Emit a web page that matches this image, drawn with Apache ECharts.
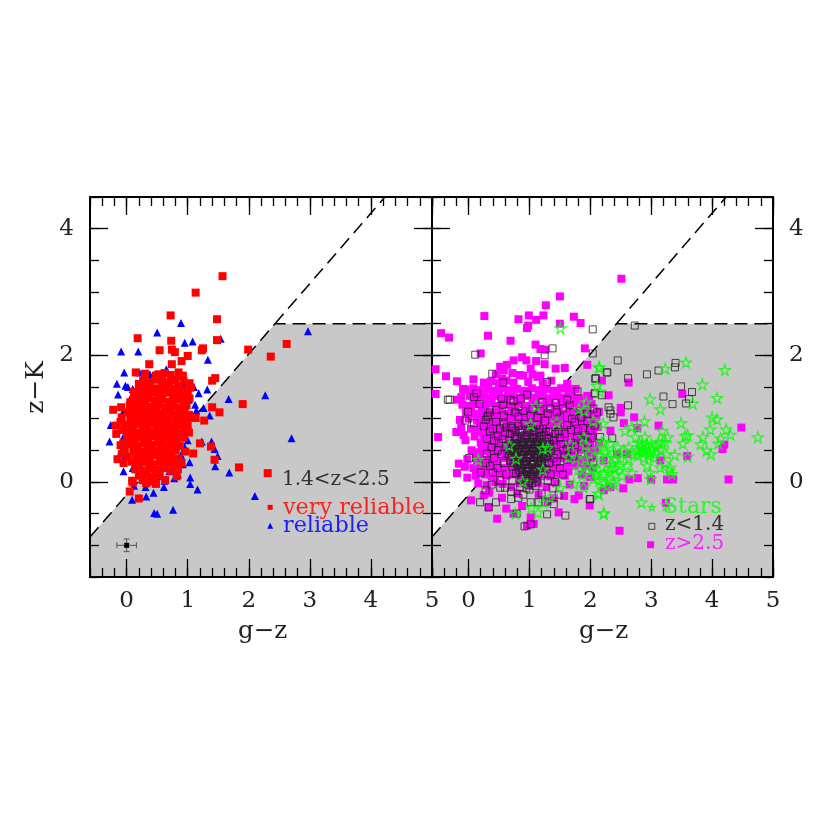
<!DOCTYPE html>
<html><head><meta charset="utf-8">
<style>html,body{margin:0;padding:0;background:#fff}#c{width:830px;height:830px}</style>
<script src="https://cdn.jsdelivr.net/npm/echarts@6/dist/echarts.min.js"></script>
</head><body><div id="c"></div>
<script>
const xMajorTicks=[0,1,2,3,4,5];
const yMajorTicks=[0,2,4];
const selectionBoundary=[[-0.6,-0.87],[2.43,2.5],[5,2.5]];
const diagonalExtension=[[2.43,2.5],[4.23,4.5]];
const errorBar=[[0,-1,0.16,0.1]];
const legendRed=[[2.35,-0.40]];
const legendBlue=[[2.35,-0.69]];
const legendStar=[[3.01,-0.40]];
const legendOpen=[[3.01,-0.70]];
const legendMagenta=[[2.99,-0.99]];

const reliable=[[0.89,2.51],[0.5,2.36],[1.54,2.26],[0.95,2.2],[1.08,2.22],[-0.09,2.06],[0.19,2.06],[1.33,1.93],[-0.04,1.73],[0.21,1.73],[0.38,1.70],[-0.16,1.55],[-0.02,1.52],[1.32,1.46],[1.67,1.31],[-0.14,1.38],[-0.26,0.9],[-0.28,0.64],[-0.09,0.48],[-0.05,0.17],[0.12,-0.06],[0.09,-0.28],[0.32,-0.23],[0.44,-0.17],[0.61,-0.08],[0.31,-0.08],[0.45,-0.49],[0.5,-0.5],[0.76,-0.44],[1.04,0.07],[1.04,-0.03],[1.16,-0.12],[2.1,-0.22],[1.68,0.15],[1.45,0.25],[1.49,0.41],[1.44,0.52],[1.39,0.64],[1.23,0.64],[1.03,0.31],[0.84,0.12],[0.7,0.17],[0.54,0.17],[0.5,0.09],[0.84,0.21],[1.36,1.05],[1.26,1.17],[1.14,1.13],[0.98,0.81],[0.89,0.43],[2.97,2.38],[2.27,1.37],[2.70,0.69],[0.02,1.50],[0.1,1.47],[0.05,1.3],[-0.05,1.12],[1.1,1.5],[1.18,1.4],[1.02,1.3],[1.12,1.22],[0.2,1.55],[0.45,1.62],[0.65,1.78],[0.75,1.62],[0.85,1.5],[0.95,1.55],[1.07,1.02],[1.0,0.66],[0.95,0.55],[0.92,0.28],[0.6,0.28],[0.3,0.12],[0.1,0.22],[-0.02,0.42],[-0.06,0.7],[0.62,0.02],[0.78,0.06],[0.36,0.02]];

const veryReliable=[[1.57,3.25],[1.13,2.99],[0.72,2.63],[1.48,2.57],[0.18,2.27],[0.73,2.23],[1.48,2.24],[1.99,2.09],[0.54,2.08],[0.74,2.09],[0.79,2.05],[1.25,2.11],[1.23,2.08],[1.0,1.99],[0.9,1.91],[0.37,1.86],[0.74,1.86],[0.15,1.73],[0.52,1.70],[1.45,1.64],[1.40,1.60],[1.90,1.23],[1.40,1.18],[1.52,1.10],[1.13,1.01],[1.27,0.97],[1.02,0.78],[1.20,0.61],[1.38,0.56],[1.44,0.35],[1.84,0.23],[0.96,0.48],[1.09,0.45],[0.63,0.03],[0.05,-0.15],[0.2,-0.26],[0.09,0.02],[-0.15,0.36],[-0.22,1.14],[-0.09,1.18],[-0.18,0.89],[-0.17,0.76],[-0.1,0.58],[0.32,-0.02],[2.36,1.98],[2.62,2.18],[2.31,0.14],
[0.30,1.71],[0.48,1.68],[0.62,1.72],[0.72,1.69],[0.85,1.73],[0.92,1.68],
[0.27,1.60],[0.38,1.58],[0.47,1.62],[0.58,1.60],[0.70,1.57],[0.80,1.61],[0.93,1.60],[1.03,1.56],
[0.24,1.49],[0.36,1.52],[0.48,1.48],[0.60,1.51],[0.72,1.47],[0.84,1.50],[0.95,1.46],[1.05,1.49],
[0.18,1.40],[0.30,1.38],[0.42,1.42],[0.52,1.39],[0.64,1.41],[0.76,1.38],[0.88,1.42],[1.00,1.38],
[0.12,1.30],[0.24,1.28],[0.36,1.32],[0.47,1.29],[0.58,1.31],[0.70,1.27],[0.82,1.30],[0.94,1.28],[1.03,1.32],
[0.05,1.20],[0.17,1.18],[0.29,1.21],[0.40,1.19],[0.52,1.22],[0.63,1.18],[0.75,1.20],[0.87,1.17],[0.98,1.21],
[0.02,1.10],[0.14,1.08],[0.26,1.11],[0.37,1.09],[0.49,1.12],[0.60,1.08],[0.72,1.10],[0.83,1.07],[0.95,1.10],[1.02,1.06],
[0.06,1.00],[0.18,0.98],[0.30,1.01],[0.41,0.99],[0.53,1.02],[0.64,0.98],[0.76,1.00],[0.87,0.97],[0.99,1.00],
[-0.02,0.90],[0.10,0.88],[0.22,0.91],[0.33,0.89],[0.45,0.92],[0.56,0.88],[0.68,0.90],[0.79,0.87],[0.91,0.90],[1.00,0.88],
[0.04,0.80],[0.16,0.78],[0.27,0.81],[0.39,0.79],[0.50,0.82],[0.62,0.78],[0.73,0.80],[0.85,0.77],[0.94,0.80],
[0.01,0.70],[0.12,0.68],[0.24,0.71],[0.35,0.69],[0.47,0.72],[0.58,0.68],[0.70,0.70],[0.81,0.67],[0.93,0.70],
[0.06,0.60],[0.18,0.58],[0.29,0.61],[0.41,0.59],[0.52,0.62],[0.64,0.58],[0.75,0.60],[0.87,0.57],
[0.11,0.50],[0.23,0.48],[0.34,0.51],[0.46,0.49],[0.57,0.52],[0.69,0.48],[0.80,0.50],
[0.02,0.40],[0.15,0.38],[0.27,0.41],[0.38,0.39],[0.50,0.42],[0.61,0.38],[0.73,0.40],[0.85,0.37],
[-0.05,0.30],[0.08,0.32],[0.20,0.29],[0.31,0.31],[0.43,0.28],[0.55,0.32],[0.66,0.29],[0.78,0.31],[0.90,0.30],
[0.14,0.20],[0.25,0.18],[0.37,0.21],[0.48,0.19],[0.60,0.22],[0.72,0.18],[0.84,0.20],
[0.20,0.10],[0.32,0.12],[0.44,0.08],[0.54,0.11],[0.82,0.09],[0.10,-0.01],[0.26,0.03],[0.40,0.01],[0.48,-0.03],
[-0.08,1.02],[-0.1,0.95],[-0.07,0.82],[-0.05,0.62],[-0.03,0.52],[-0.08,0.44],[0.06,1.26],[0.12,1.42],[0.2,1.55],
[0.35,1.44],[0.55,1.45],[0.75,1.44],[0.9,1.35],[0.3,1.25],[0.53,1.26],[0.76,1.24],[0.92,1.14],[0.22,1.05],[0.45,1.05],[0.68,1.04],[0.9,1.03],
[0.12,0.94],[0.35,0.95],[0.58,0.95],[0.82,0.93],[0.1,0.74],[0.32,0.75],[0.55,0.75],[0.76,0.74],[0.12,0.54],[0.35,0.55],[0.58,0.56],[0.8,0.55],[0.2,0.44],[0.42,0.45],[0.65,0.44],[0.18,0.24],[0.4,0.25],[0.62,0.26],[0.8,0.26]];

const highZ=[[2.51,3.21],[1.50,2.93],[1.27,2.79],[0.26,2.62],[0.99,2.63],[0.82,2.57],[1.11,2.56],[1.23,2.63],[1.73,2.61],[1.84,2.51],[1.5,2.5],[0.96,2.43],[0.98,2.47],[-0.45,2.35],[-0.32,2.28],[0.32,2.31],[0.69,2.23],[1.10,2.17],[1.18,2.10],[1.26,2.09],[1.91,2.11],[0.20,2.03],[1.11,1.91],[1.25,1.86],[1.43,1.79],[1.58,1.80],[1.95,1.85],[-0.54,1.78],[-0.37,1.67],[-0.19,1.59],[-0.54,1.39],[-0.19,1.30],[-0.09,1.47],[0.08,1.62],[0.52,1.82],[0.63,1.85],[0.74,1.92],[0.88,1.97],[0.95,1.92],[0.90,1.68],[1.02,1.79],[1.13,1.66],[0.58,1.76],[0.55,1.63],[-0.50,0.71],[-0.2,0.79],[-0.16,0.29],[-0.19,0.14],[0.04,-0.29],[0.25,-0.21],[0.47,-0.58],[0.74,-0.5],[1.02,-0.56],[1.07,-0.66],[0.96,-0.69],[1.48,-0.48],[1.57,-0.22],[1.74,-0.27],[1.81,-0.21],[1.99,-0.37],[1.74,0.26],[1.40,-0.26],[0.33,-0.40],[2.63,1.57],[3.51,1.39],[4.48,0.86],[3.12,0.89],[2.77,0.85],[4.2,0.59],[4.17,0.52],[3.59,0.41],[4.27,0.04],[2.64,0.04],[2.78,0.06],[3.26,0.04],[3.36,0.04],[3.0,0.04],[2.54,-0.10],[2.33,-0.08],[2.22,-0.13],[3.24,-0.33],[2.48,-0.77],[2.5,1.17],[2.5,1.10],[2.72,1.02],[2.55,0.93],[2.30,1.37],[2.19,1.60],[2.33,0.81],[3.15,0.34],[2.44,0.44],[2.22,0.34],[2.6,0.44],
[0.45,1.70],[0.72,1.72],[0.84,1.69],[1.05,1.70],[1.18,1.68],
[0.25,1.57],[0.37,1.59],[0.50,1.56],[0.62,1.60],[0.74,1.57],[0.98,1.58],[1.22,1.56],[1.36,1.60],[1.62,1.55],
[-0.05,1.46],[0.08,1.48],[0.20,1.45],[0.32,1.47],[0.44,1.44],[0.56,1.48],[0.68,1.45],[0.80,1.47],[0.92,1.44],[1.04,1.48],[1.16,1.45],[1.28,1.47],[1.40,1.44],[1.52,1.48],[1.64,1.45],[1.76,1.47],
[-0.12,1.34],[0.02,1.36],[0.14,1.33],[0.26,1.35],[0.38,1.32],[0.50,1.36],[0.62,1.33],[0.74,1.35],[0.86,1.32],[0.98,1.36],[1.10,1.33],[1.22,1.35],[1.34,1.32],[1.46,1.36],[1.58,1.33],[1.70,1.35],[1.82,1.32],[1.95,1.36],
[-0.10,1.22],[0.02,1.20],[0.10,1.23],[0.22,1.21],[0.34,1.24],[0.46,1.20],[0.58,1.23],[0.70,1.21],[0.82,1.24],[0.94,1.20],[1.06,1.23],[1.18,1.21],[1.30,1.24],[1.42,1.20],[1.54,1.23],[1.66,1.21],[1.78,1.24],[1.90,1.20],[2.02,1.23],
[-0.04,1.10],[0.10,1.08],[0.22,1.11],[0.34,1.09],[0.46,1.12],[0.58,1.08],[0.70,1.11],[0.82,1.09],[0.94,1.12],[1.06,1.08],[1.18,1.11],[1.30,1.09],[1.42,1.12],[1.54,1.08],[1.66,1.11],[1.78,1.09],[1.90,1.12],[2.02,1.08],[2.14,1.11],
[-0.14,0.98],[0.0,1.00],[0.14,0.97],[0.26,0.99],[0.38,0.96],[0.50,1.00],[0.62,0.97],[0.74,0.99],[0.86,0.96],[0.98,1.00],[1.10,0.97],[1.22,0.99],[1.34,0.96],[1.46,1.00],[1.58,0.97],[1.70,0.99],[1.82,0.96],[1.94,1.00],[2.06,0.97],
[-0.12,0.86],[0.04,0.84],[0.18,0.87],[0.30,0.85],[0.42,0.88],[0.54,0.84],[0.66,0.87],[0.78,0.85],[0.90,0.88],[1.02,0.84],[1.14,0.87],[1.26,0.85],[1.38,0.88],[1.50,0.84],[1.62,0.87],[1.74,0.85],[1.86,0.88],[1.98,0.84],[2.12,0.87],
[-0.08,0.74],[0.10,0.72],[0.24,0.75],[0.36,0.73],[0.48,0.76],[0.60,0.72],[0.72,0.75],[0.84,0.73],[0.96,0.76],[1.08,0.72],[1.20,0.75],[1.32,0.73],[1.44,0.76],[1.56,0.72],[1.68,0.75],[1.80,0.73],[1.92,0.76],[2.04,0.72],
[-0.05,0.66],[0.20,0.62],[0.32,0.60],[0.44,0.63],[0.56,0.59],[0.68,0.62],[0.80,0.60],[0.92,0.63],[1.04,0.59],[1.16,0.62],[1.28,0.60],[1.40,0.63],[1.52,0.59],[1.64,0.62],[1.76,0.60],[1.88,0.63],[2.00,0.59],[2.14,0.62],
[0.05,0.50],[0.16,0.47],[0.28,0.49],[0.40,0.51],[0.52,0.47],[0.64,0.50],[0.76,0.48],[0.88,0.51],[1.00,0.47],[1.12,0.50],[1.24,0.48],[1.36,0.51],[1.48,0.47],[1.60,0.50],[1.72,0.48],[1.84,0.51],[1.96,0.47],[2.08,0.50],
[-0.02,0.36],[0.12,0.38],[0.24,0.35],[0.36,0.37],[0.48,0.34],[0.60,0.38],[0.72,0.35],[0.84,0.37],[0.96,0.34],[1.08,0.38],[1.20,0.35],[1.32,0.37],[1.44,0.34],[1.56,0.38],[1.68,0.35],[1.80,0.37],[1.92,0.34],[2.04,0.38],
[-0.06,0.24],[0.08,0.22],[0.20,0.25],[0.32,0.23],[0.44,0.26],[0.56,0.22],[0.68,0.25],[0.80,0.23],[0.92,0.26],[1.04,0.22],[1.16,0.25],[1.28,0.23],[1.40,0.26],[1.52,0.22],[1.92,0.25],[2.04,0.22],
[-0.02,0.07],[0.12,0.10],[0.26,0.12],[0.38,0.09],[0.50,0.13],[0.62,0.10],[0.74,0.12],[0.86,0.09],[0.98,0.13],[1.10,0.10],[1.22,0.12],[1.34,0.09],[1.46,0.13],[1.58,0.10],[1.86,0.12],[2.0,0.08],
[0.16,-0.02],[0.30,-0.05],[0.44,0.0],[0.56,-0.03],[0.70,-0.08],[0.84,-0.02],[1.00,-0.06],[1.14,-0.02],[1.28,-0.08],[1.44,-0.02],[1.66,-0.04],[1.90,-0.06],[0.34,-0.17],[0.55,-0.25],[0.8,-0.18],[1.15,-0.2],[1.3,-0.3],[0.62,-0.42],[0.88,-0.38],
[0.15,1.40],[0.4,1.40],[0.65,1.40],[0.9,1.40],[1.15,1.40],[1.4,1.40],[1.65,1.40],[0.08,1.28],[0.3,1.28],[0.55,1.28],[0.8,1.28],[1.05,1.28],[1.28,1.28],[1.52,1.28],[1.76,1.28],[1.98,1.28],[0.04,1.15],[0.28,1.15],[0.52,1.15],[0.76,1.15],[1.0,1.15],[1.24,1.15],[1.48,1.15],[1.72,1.15],[1.96,1.15],[0.2,1.03],[0.44,1.04],[0.68,1.03],[0.92,1.04],[1.16,1.03],[1.4,1.04],[1.64,1.03],[1.88,1.04],[2.1,1.03],[0.24,0.92],[0.48,0.92],[0.72,0.92],[1.08,0.92],[1.44,0.92],[1.68,0.92],[1.92,0.92],[0.16,0.8],[0.4,0.8],[0.6,0.8],[1.56,0.8],[1.8,0.8],[2.04,0.8],[0.26,0.68],[0.5,0.68],[1.46,0.68],[1.7,0.68],[1.94,0.68],[0.22,0.55],[0.46,0.55],[1.42,0.56],[1.66,0.56],[1.9,0.56],[0.18,0.42],[0.42,0.43],[1.5,0.42],[1.74,0.43],[1.98,0.42],[0.14,0.3],[0.38,0.3],[1.62,0.3],[1.86,0.3],[0.2,0.17],[0.44,0.18],[1.4,0.18],[1.64,0.17]];

const lowZ=[[2.73,2.47],[2.04,2.41],[2.04,2.03],[2.45,1.92],[2.28,1.73],[2.62,1.64],[2.93,1.70],[3.12,1.76],[3.39,1.81],[3.40,1.88],[3.49,1.51],[3.67,1.42],[3.20,1.35],[3.35,1.23],[3.62,1.31],[3.57,1.24],[2.62,1.21],[2.30,1.18],[2.33,1.08],[2.38,1.02],[2.19,1.37],[2.08,1.63],[2.08,1.40],[2.11,1.10],[2.36,0.69],[2.16,0.71],[2.07,0.89],[2.05,0.31],[2.0,-0.27],[0.11,2.01],[1.38,2.11],[1.25,2.0],[0.39,1.71],[1.29,1.58],[2.27,1.73],[-0.31,1.30],[-0.34,1.30],[0.13,1.40],[0.09,1.34],[0.18,1.23],[0.57,1.57],[0.54,1.31],[0.57,1.22],[0.69,1.30],[0.74,1.28],[0.86,1.32],[0.96,1.38],[0.82,1.19],[1.21,1.26],[1.43,1.25],[1.62,1.30],[1.66,1.22],[1.79,1.43],[2.09,1.64],[2.07,1.40],[-0.01,1.11],[0.31,1.03],[1.34,1.16],[2.33,1.13],[2.05,1.16],[0.82,1.03],[1.02,1.05],[1.13,1.02],[1.26,0.97],[0.92,-0.70],[1.02,-0.67],[1.29,-0.51],[1.59,-0.53],[0.79,-0.5],[0.33,-0.40],[0.19,-0.32],[0.45,-0.32],[0.70,-0.27],[0.82,-0.25],[1.02,-0.32],[1.26,-0.32],[1.99,-0.27],[0.28,-0.13],[0.38,-0.04],[0.52,-0.09],[0.60,-0.09],[0.01,0.38],[0.20,0.15],[0.09,0.93],[-0.05,0.97],[0.28,0.98],[0.32,1.05],[1.72,1.10],[1.85,1.02],[1.95,0.96],[1.5,1.02],[1.62,0.9],[1.75,0.95],[1.88,0.85],[2.0,0.82],[1.46,0.9],[0.45,0.95],[0.58,0.92],[0.7,0.88],[0.35,0.8],[0.48,0.72],[0.6,0.78],[0.38,0.55],[0.5,0.62],[0.42,0.38],[0.55,0.44],[0.35,0.25],[0.48,0.22],[0.58,0.3],[0.62,0.12],[0.72,0.02],[0.85,-0.08],[1.0,-0.12],[1.1,-0.06],[1.2,-0.18],[1.38,-0.1],[1.48,-0.2],[1.35,0.12],[1.5,0.22],[1.62,0.35],[1.55,0.5],[1.68,0.62],[1.78,0.72],
[0.72,0.85],[0.82,0.88],[0.92,0.92],[1.02,0.86],[1.12,0.9],[1.22,0.84],[1.32,0.8],[1.42,0.76],
[0.68,0.76],[0.76,0.72],[0.84,0.78],[0.92,0.74],[1.0,0.78],[1.08,0.74],[1.16,0.78],[1.24,0.74],[1.32,0.7],[1.4,0.66],[1.5,0.7],
[0.66,0.66],[0.74,0.62],[0.8,0.68],[0.88,0.64],[0.94,0.68],[1.0,0.63],[1.06,0.68],[1.12,0.64],[1.18,0.68],[1.26,0.63],[1.34,0.6],[1.44,0.58],
[0.62,0.56],[0.7,0.52],[0.78,0.57],[0.84,0.53],[0.9,0.58],[0.96,0.54],[1.02,0.58],[1.08,0.54],[1.14,0.58],[1.2,0.54],[1.28,0.52],[1.36,0.5],[1.46,0.44],
[0.64,0.44],[0.72,0.42],[0.8,0.47],[0.86,0.43],[0.92,0.48],[0.98,0.44],[1.04,0.48],[1.1,0.44],[1.16,0.48],[1.22,0.44],[1.3,0.42],[1.4,0.38],
[0.68,0.34],[0.76,0.36],[0.82,0.33],[0.88,0.37],[0.94,0.33],[1.0,0.38],[1.06,0.34],[1.12,0.38],[1.18,0.34],[1.24,0.36],[1.32,0.3],
[0.72,0.24],[0.8,0.26],[0.86,0.22],[0.92,0.27],[0.98,0.23],[1.04,0.27],[1.1,0.23],[1.16,0.26],[1.22,0.22],[1.28,0.2],
[0.78,0.14],[0.84,0.16],[0.9,0.12],[0.96,0.16],[1.02,0.12],[1.08,0.16],[1.14,0.12],[1.2,0.1],
[0.86,0.05],[0.94,0.06],[1.0,0.02],[1.06,0.05],[1.12,0.01],[0.98,-0.04],[1.04,-0.02],[0.95,-0.1],
[0.77,0.81],[0.87,0.83],[0.97,0.82],[1.07,0.81],[1.17,0.83],[1.27,0.79],[0.79,0.71],[0.87,0.7],[0.96,0.72],[1.04,0.7],[1.12,0.71],[1.2,0.72],[1.28,0.68],[0.71,0.6],[0.76,0.55],[0.82,0.61],[0.86,0.58],[0.91,0.62],[0.98,0.6],[1.03,0.62],[1.09,0.6],[1.15,0.62],[1.23,0.59],[1.31,0.56],[0.68,0.49],[0.74,0.47],[0.82,0.51],[0.88,0.48],[0.94,0.51],[1.0,0.49],[1.06,0.52],[1.12,0.49],[1.18,0.52],[1.25,0.49],[1.33,0.46],[0.7,0.39],[0.78,0.41],[0.84,0.38],[0.9,0.42],[0.96,0.39],[1.02,0.42],[1.08,0.39],[1.14,0.42],[1.2,0.39],[1.27,0.4],[0.74,0.3],[0.8,0.31],[0.86,0.28],[0.9,0.32],[0.96,0.28],[1.02,0.32],[1.08,0.28],[1.14,0.31],[1.2,0.28],[1.26,0.29],[0.82,0.19],[0.88,0.2],[0.94,0.18],[1.0,0.21],[1.06,0.19],[1.12,0.21],[1.18,0.18],[0.88,0.08],[0.96,0.1],[1.04,0.09],[1.1,0.07],
[0.35,1.1],[0.45,1.14],[0.58,1.05],[0.66,1.12],[0.76,1.1],[0.9,1.12],[1.05,1.15],[1.18,1.12],[1.3,1.08],[1.45,1.1],[1.55,1.16],[1.7,1.0],[1.82,1.12],[1.95,1.08],[0.25,0.88],[0.4,0.84],[0.52,0.85],[0.62,0.86],[1.48,0.8],[1.58,0.76],[1.68,0.82],[1.8,0.8],[1.92,0.74],[2.02,0.7],[0.3,0.68],[0.42,0.65],[0.56,0.68],[1.52,0.6],[1.62,0.52],[1.75,0.58],[1.85,0.66],[1.96,0.62],[0.3,0.45],[0.48,0.5],[1.45,0.32],[1.58,0.42],[1.72,0.4],[1.85,0.45],[0.28,0.3],[0.4,0.15],[0.52,0.03],[1.3,0.02],[1.42,0.0],[1.55,0.12],[0.7,-0.15],[0.9,-0.2],[1.15,-0.32],[1.4,-0.35]];

const stars=[[1.51,2.43],[2.15,1.81],[2.11,1.52],[2.16,1.43],[1.93,1.26],[1.81,1.15],[1.90,1.13],[1.11,1.20],[1.02,0.91],[1.45,0.94],[0.67,0.58],[1.22,0.53],[1.30,0.54],[0.16,0.35],[0.78,0.37],[1.22,0.20],[0.89,0.01],[1.67,0.60],[1.89,0.71],[2.19,0.63],[1.92,0.58],[2.16,0.42],[1.64,0.39],[1.77,0.38],[1.92,0.37],[1.98,0.45],[1.87,0.10],[1.73,-0.03],[1.51,-0.09],[1.89,-0.08],[2.09,0.15],[2.05,0.05],[2.21,-0.02],[2.13,-0.18],[1.34,-0.24],[1.23,-0.32],[1.03,-0.41],[1.14,-0.48],[0.77,-0.5],[2.22,-0.50],[2.05,0.97],[2.21,0.92],[3.57,1.89],[3.23,1.79],[4.21,1.77],[2.14,1.81],[3.84,1.54],[4.08,1.33],[2.98,1.31],[3.68,1.24],[3.15,1.15],[4.0,1.02],[4.08,0.99],[3.49,0.93],[3.97,0.83],[4.23,0.83],[4.30,0.75],[4.14,0.69],[4.10,0.61],[3.85,0.71],[3.81,0.60],[3.56,0.73],[3.60,0.74],[3.52,0.61],[4.75,0.71],[3.91,0.50],[3.98,0.44],[3.60,0.40],[3.39,0.43],[3.27,0.71],[3.18,0.81],[2.89,0.96],[2.68,0.87],[2.57,0.81],[2.77,0.87],[2.74,0.71],[2.90,0.71],[3.12,0.63],[3.23,0.63],[2.22,0.63],[2.33,0.60],[2.82,0.55],[2.90,0.50],[2.98,0.47],[2.77,0.50],[2.63,0.55],[2.71,0.44],[3.04,0.39],[3.15,0.50],[3.26,0.44],[2.41,0.37],[2.33,0.23],[2.49,0.26],[2.63,0.37],[2.60,0.26],[2.93,0.26],[2.98,0.15],[2.68,0.15],[2.52,0.10],[3.15,0.23],[3.31,0.23],[3.34,0.13],[2.99,0.05],[2.22,0.13],[2.11,0.10],[2.38,0.0],[2.30,0.02],[2.14,-0.19],[2.84,-0.32],[3.25,-0.36],[2.22,-0.49],[2.85,0.6],[2.8,0.62],[2.92,0.6],[2.87,0.52],[2.94,0.55],[3.0,0.6],[2.84,0.47],[2.95,0.42],[3.02,0.52],[3.08,0.58],[2.78,0.42],[2.88,0.38],[3.08,0.46],[3.18,0.62],[2.55,0.5],[2.45,0.55],[2.38,0.45],[2.28,0.38],[2.5,0.38],[3.22,0.3],[3.3,0.18],[2.42,0.12],[2.15,0.02],[2.27,-0.06],[2.4,-0.04],[2.1,0.3],[2.2,0.24],[2.3,0.16],[2.36,0.3],[2.02,0.2],[2.12,0.52],[2.25,0.48],[2.4,0.22],[1.8,0.2],[1.95,0.25]];

function panelAxes(gridIndex,side){
  const xs=[],ys=[];
  const line={onZero:false,lineStyle:{color:'#000',width:2}};
  const tick=(len)=>({show:true,inside:true,length:len,lineStyle:{color:'#000',width:1.3}});
  const labelStyle={fontFamily:'DejaVu Serif',fontSize:23,color:'#222'};
  const xBase={type:'value',gridIndex,min:-0.6,max:5,z:1,splitLine:{show:false},axisLine:line};
  const yBase={type:'value',gridIndex,min:-1.5,max:4.5,z:1,splitLine:{show:false},axisLine:line};
  ['bottom','top'].forEach(pos=>{
    xs.push({...xBase,position:pos,axisTick:{...tick(18),customValues:xMajorTicks},
      axisLabel:pos==='bottom'?{...labelStyle,show:true,margin:13,customValues:xMajorTicks,formatter:v=>String(v)}:{show:false}});
    xs.push({...xBase,position:pos,interval:0.2,axisTick:tick(9),axisLabel:{show:false}});
  });
  ['left','right'].forEach(pos=>{
    ys.push({...yBase,position:pos,axisTick:{...tick(18),customValues:yMajorTicks},
      axisLabel:pos===side?{...labelStyle,show:true,margin:16,customValues:yMajorTicks,formatter:v=>String(v)}:{show:false}});
    ys.push({...yBase,position:pos,interval:0.5,axisTick:tick(9),axisLabel:{show:false}});
  });
  return {xs,ys};
}
const p0=panelAxes(0,'left');
const p1=panelAxes(1,'right');

const STAR='path://M50 0L61 35L98 35L68 57L79 91L50 70L21 91L32 57L2 35L39 35Z';
function area(panel){return {type:'line',xAxisIndex:panel*4,yAxisIndex:panel*4,data:selectionBoundary,showSymbol:false,silent:true,z:0,
  lineStyle:{width:0,color:'#c8c8c8'},itemStyle:{color:'#c8c8c8'},areaStyle:{color:'#c8c8c8',opacity:1,origin:'start'}};}
function dash(panel,d){return {type:'line',xAxisIndex:panel*4,yAxisIndex:panel*4,data:d,showSymbol:false,silent:true,z:1,
  lineStyle:{color:'#000',width:1.5,type:[13,7]},itemStyle:{color:'#000'}};}
function pts(panel,d,symbol,size,color,z,open,bw){return {type:'scatter',xAxisIndex:panel*4,yAxisIndex:panel*4,data:d,symbol,symbolSize:size,z,silent:true,
  itemStyle:open?{color:'rgba(0,0,0,0)',borderColor:color,borderWidth:bw||1}:{color,opacity:1}};}

const text=(t,x,y,color,size)=>({type:'text',left:x,top:y,z:20,style:{text:t,fill:color,font:size+'px "DejaVu Serif"',textVerticalAlign:'middle'}});

const chart=echarts.init(document.getElementById('c'),null,{renderer:'canvas'});
chart.setOption({
  animation:false,backgroundColor:'#fff',
  grid:[{left:90,top:197,width:342,height:380},{left:432,top:197,width:341,height:380}],
  xAxis:[...p0.xs,...p1.xs],
  yAxis:[...p0.ys,...p1.ys],
  series:[
    area(0),area(1),dash(0,selectionBoundary),dash(0,diagonalExtension),dash(1,selectionBoundary),dash(1,diagonalExtension),
    pts(0,reliable,'triangle',8,'#0000ff',3),
    pts(0,veryReliable,'rect',8,'#ff0000',4),
    pts(0,legendRed,'rect',5,'#ff0000',4),
    pts(0,legendBlue,'triangle',6,'#0000ff',4),
    {type:'custom',xAxisIndex:0,yAxisIndex:0,data:errorBar,z:5,silent:true,
     renderItem:(p,api)=>{
       const x=api.value(0),y=api.value(1),dx=api.value(2),dy=api.value(3);
       const a=api.coord([x-dx,y]),b=api.coord([x+dx,y]),c=api.coord([x,y+dy]),d=api.coord([x,y-dy]),m=api.coord([x,y]);
       const st={stroke:'#555',lineWidth:1};
       const seg=(x1,y1,x2,y2)=>({type:'line',shape:{x1,y1,x2,y2},style:st});
       return {type:'group',children:[seg(a[0],a[1],b[0],b[1]),seg(c[0],c[1],d[0],d[1]),
         seg(a[0],a[1]-3,a[0],a[1]+3),seg(b[0],b[1]-3,b[0],b[1]+3),seg(c[0]-3,c[1],c[0]+3,c[1]),seg(d[0]-3,d[1],d[0]+3,d[1]),
         {type:'rect',shape:{x:m[0]-2.5,y:m[1]-2.5,width:5,height:5},style:{fill:'#000'}}]};
     }},
    pts(1,highZ,'rect',8,'#ff00ff',3),
    pts(1,legendMagenta,'rect',7,'#ff00ff',3),
    pts(1,lowZ,'rect',7,'#222222',4,true),
    pts(1,legendOpen,'rect',6,'#222222',4,true),
    pts(1,stars,STAR,11,'#00ff00',5,true,1.2),
    pts(1,legendStar,STAR,7,'#00ff00',5,true,1.2)
  ],
  graphic:[
    {type:'text',left:24,top:361,rotation:Math.PI/2,z:20,style:{text:'z−K',fill:'#222',font:'25px "DejaVu Serif"'}},
    text('g−z',238,619,'#222',24.5),
    text('g−z',579,619,'#222',24.5),
    text('1.4<z<2.5',282,470,'#333',20),
    text('very reliable',283,497,'#ff2020',22.3),
    text('reliable',283,515,'#2020ff',22.3),
    text('Stars',663,496,'#20ff20',22),
    text('z<1.4',665,515,'#333',20),
    text('z>2.5',665,534,'#ff20ff',20)
  ]
});
</script></body></html>
